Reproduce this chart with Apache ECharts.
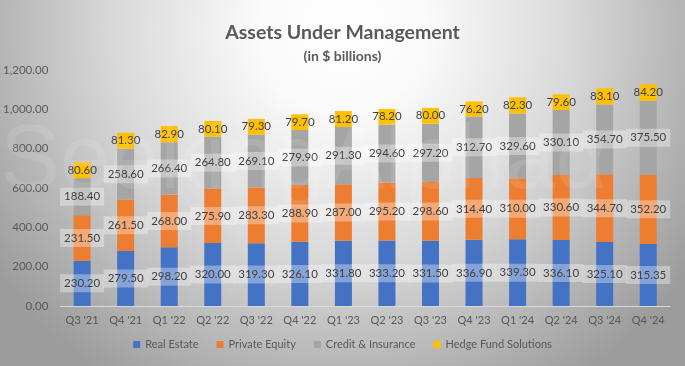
<!DOCTYPE html>
<html>
<head>
<meta charset="utf-8">
<script src="https://cdn.jsdelivr.net/npm/echarts@6/dist/echarts.min.js"></script>
<style>
html,body{margin:0;padding:0;}
#chart{width:685px;height:366px;}
</style>
</head>
<body>
<div id="chart"></div>
<script>
const categories = ["Q3 '21","Q4 '21","Q1 '22","Q2 '22","Q3 '22","Q4 '22","Q1 '23","Q2 '23","Q3 '23","Q4 '23","Q1 '24","Q2 '24","Q3 '24","Q4 '24"];
const realEstate = [230.20,279.50,298.20,320.00,319.30,326.10,331.80,333.20,331.50,336.90,339.30,336.10,325.10,315.35];
const privateEquity = [231.50,261.50,268.00,275.90,283.30,288.90,287.00,295.20,298.60,314.40,310.00,330.60,344.70,352.20];
const creditInsurance = [188.40,258.60,266.40,264.80,269.10,279.90,291.30,294.60,297.20,312.70,329.60,330.10,354.70,375.50];
const hedgeFund = [80.60,81.30,82.90,80.10,79.30,79.70,81.20,78.20,80.00,76.20,82.30,79.60,83.10,84.20];
const yTicks = [0,200,400,600,800,1000,1200];

const FONT = 'Lato';
const chart = echarts.init(document.getElementById('chart'));

function lbl(withBox){
  const l = {
    show:true, position:'inside', color:'#404040', fontFamily:FONT, fontSize:11.5,
    formatter: p => p.value.toFixed(2)
  };
  if(withBox){ l.backgroundColor='rgba(255,255,255,0.35)'; l.padding=[3,4]; }
  return l;
}
function ser(name,data,color,box){
  return {name, type:'bar', stack:'aum', data, barWidth:17,
    itemStyle:{color}, label:lbl(box), emphasis:{disabled:true}};
}

chart.setOption({
  animation:false,
  backgroundColor:{type:'radial', x:0.5, y:0.08, r:1.15, colorStops:[
    {offset:0,color:'#ffffff'},{offset:0.2,color:'#fafafa'},{offset:0.55,color:'#d8d8d8'},{offset:1,color:'#9c9c9c'}]},
  title:[
    {text:'Assets Under Management', left:'center', top:18, textStyle:{fontFamily:FONT, fontSize:19.5, fontWeight:'bold', color:'#595959'}},
    {text:'(in $ billions)', left:'center', top:44, textStyle:{fontFamily:FONT, fontSize:14, fontWeight:'bold', color:'#595959'}}
  ],
  grid:{left:60, right:15, top:70, bottom:60},
  legend:{bottom:11, left:'center', itemWidth:7, itemHeight:7, itemGap:18, icon:'rect',
    textStyle:{fontFamily:FONT, fontSize:11, color:'#595959'},
    data:['Real Estate','Private Equity','Credit & Insurance','Hedge Fund Solutions']},
  xAxis:{type:'category', data:categories,
    axisLine:{lineStyle:{color:'#d9d9d9'}}, axisTick:{show:false},
    axisLabel:{fontFamily:FONT, fontSize:11, color:'#595959', margin:9, interval:0}},
  yAxis:{type:'value', min:yTicks[0], max:yTicks[yTicks.length-1], interval:200,
    splitLine:{show:false}, axisLine:{show:false}, axisTick:{show:false},
    axisLabel:{fontFamily:FONT, fontSize:11.5, color:'#595959', margin:12,
      formatter:v => v.toLocaleString('en-US',{minimumFractionDigits:2,maximumFractionDigits:2})}},
  graphic:[
    {type:'text', left:0, top:118, z:100, silent:true,
     style:{text:'SeekingAlpha\u03B1', font:'90px "Liberation Sans"', fill:'rgba(255,255,255,0.1)'}}
  ],
  series:[
    ser('Real Estate', realEstate, '#4472C4', true),
    ser('Private Equity', privateEquity, '#ED7D31', true),
    ser('Credit & Insurance', creditInsurance, '#A5A5A5', true),
    ser('Hedge Fund Solutions', hedgeFund, '#FFC000', false)
  ]
});
</script>
</body>
</html>
